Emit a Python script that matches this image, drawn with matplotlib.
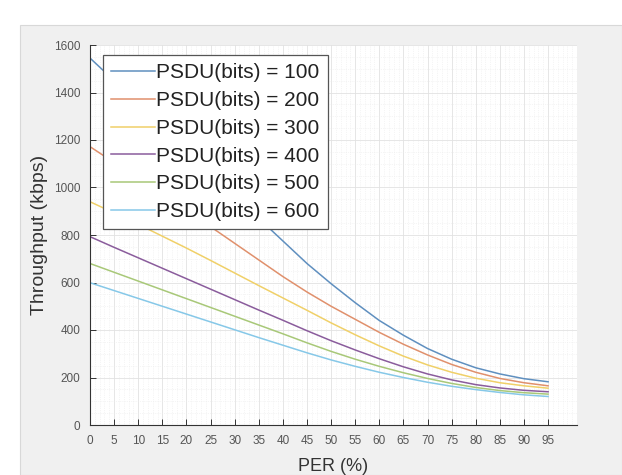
import matplotlib
matplotlib.use("Agg")
import matplotlib.pyplot as plt
from matplotlib.patches import Rectangle
from matplotlib.ticker import MultipleLocator

per = [0, 5, 10, 15, 20, 25, 30, 35, 40, 45, 50, 55, 60, 65, 70, 75, 80, 85, 90, 95]
psdu_100 = [1545, 1450, 1355, 1260, 1165, 1070, 970, 870, 775, 680, 595, 515, 440, 378, 322, 277, 241, 215, 195, 182]
psdu_200 = [1172, 1105, 1038, 970, 903, 835, 765, 695, 625, 560, 500, 445, 390, 340, 295, 255, 222, 196, 178, 165]
psdu_300 = [940, 893, 845, 795, 745, 693, 640, 587, 535, 483, 430, 380, 333, 290, 253, 222, 197, 178, 165, 155]
psdu_400 = [793, 748, 704, 660, 616, 572, 528, 484, 441, 397, 355, 316, 279, 245, 215, 190, 170, 156, 146, 140]
psdu_500 = [680, 643, 606, 569, 532, 495, 458, 421, 384, 346, 310, 277, 247, 220, 196, 175, 158, 145, 136, 130]
psdu_600 = [599, 566, 533, 500, 467, 434, 401, 368, 336, 304, 274, 247, 222, 200, 180, 163, 149, 137, 127, 120]

labels = ["PSDU(bits) = 100", "PSDU(bits) = 200", "PSDU(bits) = 300",
          "PSDU(bits) = 400", "PSDU(bits) = 500", "PSDU(bits) = 600"]
series = [psdu_100, psdu_200, psdu_300, psdu_400, psdu_500, psdu_600]
colors = ["#5f8fbf", "#e0906c", "#f0d068", "#8a5c9c", "#a8c878", "#86c8e8"]
x_ticks = [0, 5, 10, 15, 20, 25, 30, 35, 40, 45, 50, 55, 60, 65, 70, 75, 80, 85, 90, 95]
y_ticks = [0, 200, 400, 600, 800, 1000, 1200, 1400, 1600]

plt.rcParams['font.family'] = ['Liberation Sans', 'DejaVu Sans']

fig = plt.figure(figsize=(6.22, 4.75), dpi=100)
fig.patch.set_facecolor("white")
bg = Rectangle((20/622, 0), 1 - 20/622, 1 - 25/475, transform=fig.transFigure,
               facecolor="#f0f0f0", edgecolor="#d8d8d8", lw=0.8, zorder=-10)
fig.patches.append(bg)

ax = fig.add_axes([90/622, 1 - 425/475, 487/622, 380/475])
ax.set_zorder(5)
ax.set_facecolor("white")

for y, c, lab in zip(series, colors, labels):
    ax.plot(per, y, color=c, lw=1.1, label=lab)

ax.set_xlim(0, 101)
ax.set_ylim(0, 1600)
ax.set_xticks(x_ticks)
ax.set_yticks(y_ticks)
ax.xaxis.set_minor_locator(MultipleLocator(1))
ax.yaxis.set_minor_locator(MultipleLocator(50))
ax.grid(which="major", color="#e2e2e2", lw=0.6)
ax.grid(which="minor", color="#ececec", lw=0.5, ls=":")
ax.set_axisbelow(True)

for s in ["top", "right"]:
    ax.spines[s].set_visible(False)
for s in ["left", "bottom"]:
    ax.spines[s].set_color("#333333")
    ax.spines[s].set_linewidth(0.8)
ax.tick_params(which="major", direction="in", length=4, width=0.7, colors="#333333",
               labelsize=8.5, labelcolor="#555555", pad=7)
ax.tick_params(which="minor", length=0)

ax.set_xlabel("PER (%)", fontsize=13, color="#333333", labelpad=8)
ax.set_ylabel("Throughput (kbps)", fontsize=14, color="#333333", labelpad=4)

leg = ax.legend(loc="upper left", bbox_to_anchor=(13/487, 1 - 10/380), fontsize=15,
                frameon=True, fancybox=False, framealpha=1, edgecolor="#555555",
                handlelength=2.1, handletextpad=0.05, labelspacing=0.42,
                borderpad=0.4, borderaxespad=0)
leg.get_frame().set_linewidth(0.9)
for t in leg.get_texts():
    t.set_color("#222222")

fig.savefig("out.png", dpi=100, facecolor=fig.get_facecolor())
